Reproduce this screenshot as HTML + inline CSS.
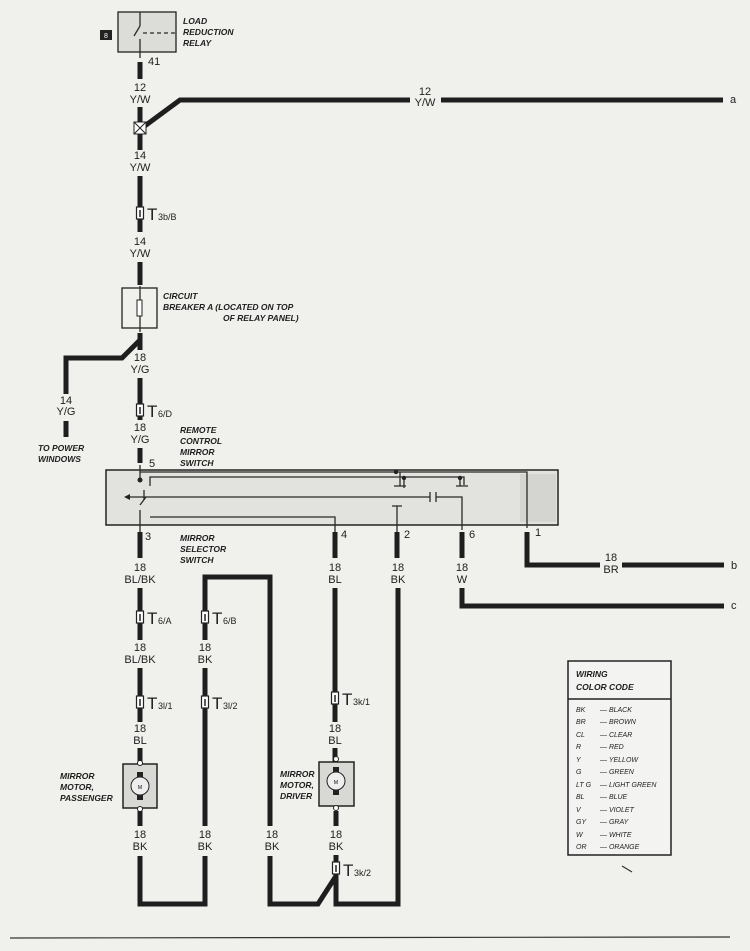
<!DOCTYPE html>
<html><head><meta charset="utf-8"><style>
html,body{margin:0;padding:0;background:#f0f0ed;}
svg{display:block;font-family:"Liberation Sans",sans-serif;}
.w{stroke:#1e1e1e;stroke-width:5;fill:none;}
.t{stroke:#2a2a2a;stroke-width:1.3;fill:none;}
.l{font-size:11px;fill:#1e1e1e;text-anchor:middle;}
.i{font-size:8.5px;font-style:italic;font-weight:bold;fill:#1e1e1e;}
.c{font-size:7px;font-style:italic;fill:#222;}
</style></head><body>
<svg width="750" height="951" viewBox="0 0 750 951">
<defs>
<g id="con"><rect x="-3.5" y="-6" width="7" height="12" fill="#fff" stroke="#222" stroke-width="1.2"/><line x1="0" y1="-3" x2="0" y2="4" stroke="#222" stroke-width="1.5"/></g>
</defs>
<!-- Relay -->
<rect x="118" y="12" width="58" height="40" fill="#dcdcd8" stroke="#222" stroke-width="1.3"/>
<line x1="140" y1="12" x2="140" y2="26" class="t"/><line x1="134" y1="36" x2="140" y2="26" class="t"/><line x1="140" y1="39" x2="140" y2="58" class="t"/>
<line x1="143" y1="33" x2="176" y2="33" class="t" stroke-dasharray="4 3"/>
<rect x="100" y="30" width="12" height="10" fill="#222"/><text x="106" y="38" font-size="7" fill="#fff" text-anchor="middle">8</text>
<text class="i" x="183" y="24">LOAD</text><text class="i" x="183" y="35">REDUCTION</text><text class="i" x="183" y="46">RELAY</text>
<text x="148" y="65" font-size="11" fill="#1e1e1e">41</text>
<path class="w" d="M140 62V79"/>
<text class="l" x="140" y="91">12</text><text class="l" x="140" y="103">Y/W</text>
<path class="w" d="M140 107V150"/>
<path class="w" d="M142 128L180 100H410M441 100H723"/>
<rect x="134" y="122" width="12" height="12" fill="#fff" stroke="#222"/><path d="M134 122L146 134M146 122L134 134" stroke="#222"/>
<text class="l" x="425" y="95">12</text><text class="l" x="425" y="106">Y/W</text>
<text x="730" y="103" font-size="11" fill="#1e1e1e">a</text>
<text class="l" x="140" y="159">14</text><text class="l" x="140" y="171">Y/W</text>
<path class="w" d="M140 176V232"/><use href="#con" x="140" y="213"/>
<text x="147" y="220" font-size="17" fill="#1e1e1e">T</text><text x="158" y="220" font-size="9" fill="#1e1e1e">3b/B</text>
<text class="l" x="140" y="245">14</text><text class="l" x="140" y="257">Y/W</text>
<path class="w" d="M140 262V285"/>
<rect x="122" y="288" width="35" height="40" fill="none" stroke="#222" stroke-width="1.3"/>
<rect x="137" y="300" width="5" height="16" fill="#fff" stroke="#222"/><line x1="140" y1="286" x2="140" y2="300" class="t"/><line x1="140" y1="316" x2="140" y2="332" class="t"/>
<text class="i" x="163" y="299">CIRCUIT</text><text class="i" x="163" y="310">BREAKER A (LOCATED ON TOP</text><text class="i" x="223" y="321">OF RELAY PANEL)</text>
<path class="w" d="M140 333V350"/>
<path class="w" d="M140 340L122 358H66V394"/>
<text class="l" x="66" y="404">14</text><text class="l" x="66" y="415">Y/G</text>
<path class="w" d="M66 421V437"/>
<text class="i" x="38" y="451">TO POWER</text><text class="i" x="38" y="462">WINDOWS</text>
<text class="l" x="140" y="361">18</text><text class="l" x="140" y="373">Y/G</text>
<path class="w" d="M140 378V420"/><use href="#con" x="140" y="410"/>
<text x="147" y="417" font-size="17" fill="#1e1e1e">T</text><text x="158" y="417" font-size="9" fill="#1e1e1e">6/D</text>
<text class="l" x="140" y="431">18</text><text class="l" x="140" y="443">Y/G</text>
<path class="w" d="M140 448V463"/>
<text x="149" y="467" font-size="11" fill="#1e1e1e">5</text>
<text class="i" x="180" y="433">REMOTE</text><text class="i" x="180" y="444">CONTROL</text><text class="i" x="180" y="455">MIRROR</text><text class="i" x="180" y="466">SWITCH</text>
<!-- Switch -->
<rect x="106" y="470" width="452" height="55" fill="#e2e2de" stroke="#222" stroke-width="1.5"/>
<rect x="520" y="474" width="36" height="48" fill="#d4d4d0"/>
<path class="t" d="M140 465V482M140 472H527V528"/>
<circle cx="140" cy="480" r="2.5" fill="#222"/>
<path class="t" d="M150 486V477H464V485M400 472V486M394 486H406M404 478V488M456 486H468M460 478V486"/>
<circle cx="404" cy="478" r="2.2" fill="#222"/><circle cx="396" cy="472" r="2.2" fill="#222"/><circle cx="460" cy="478" r="2.2" fill="#222"/>
<path class="t" d="M126 497H430M436 497H462V530M430 492V502M436 492V502M144 490V500"/>
<path d="M124 497l6-3v6z" fill="#222"/>
<path class="t" d="M140 505L146 497M140 510V535M150 517H335V535M397 506V535M392 506H402"/>
<text x="145" y="540" font-size="11" fill="#1e1e1e">3</text>
<text x="341" y="538" font-size="11" fill="#1e1e1e">4</text>
<text x="404" y="538" font-size="11" fill="#1e1e1e">2</text>
<text x="469" y="538" font-size="11" fill="#1e1e1e">6</text>
<text x="535" y="536" font-size="11" fill="#1e1e1e">1</text>
<text class="i" x="180" y="541">MIRROR</text><text class="i" x="180" y="552">SELECTOR</text><text class="i" x="180" y="563">SWITCH</text>
<!-- pin 3 branch -->
<path class="w" d="M140 532V558"/>
<text class="l" x="140" y="571">18</text><text class="l" x="140" y="583">BL/BK</text>
<path class="w" d="M140 588V640"/><use href="#con" x="140" y="617"/>
<text x="147" y="624" font-size="17" fill="#1e1e1e">T</text><text x="158" y="624" font-size="9" fill="#1e1e1e">6/A</text>
<text class="l" x="140" y="651">18</text><text class="l" x="140" y="663">BL/BK</text>
<path class="w" d="M140 668V722"/><use href="#con" x="140" y="702"/>
<text x="147" y="709" font-size="17" fill="#1e1e1e">T</text><text x="158" y="709" font-size="9" fill="#1e1e1e">3l/1</text>
<text class="l" x="140" y="732">18</text><text class="l" x="140" y="744">BL</text>
<path class="w" d="M140 748V764"/>
<rect x="123" y="764" width="34" height="44" fill="#d8d8d4" stroke="#222" stroke-width="1.5"/>
<circle cx="140" cy="786" r="9" fill="#eee" stroke="#222"/><rect x="137" y="772" width="6" height="5" fill="#222"/><rect x="137" y="795" width="6" height="5" fill="#222"/>
<text x="140" y="789" font-size="5" text-anchor="middle">M</text>
<circle cx="140" cy="763" r="2.5" fill="#fff" stroke="#222"/><circle cx="140" cy="809" r="2.5" fill="#fff" stroke="#222"/>
<text class="i" x="60" y="779">MIRROR</text><text class="i" x="60" y="790">MOTOR,</text><text class="i" x="60" y="801">PASSENGER</text>
<path class="w" d="M140 811V826"/>
<text class="l" x="140" y="838">18</text><text class="l" x="140" y="850">BK</text>
<path class="w" d="M140 856V904H205V856"/>
<text class="l" x="205" y="838">18</text><text class="l" x="205" y="850">BK</text>
<path class="w" d="M205 826V668"/><text class="l" x="205" y="651">18</text><text class="l" x="205" y="663">BK</text>
<path class="w" d="M205 640V577H270V826"/>
<use href="#con" x="205" y="617"/><use href="#con" x="205" y="702"/>
<text x="212" y="624" font-size="17" fill="#1e1e1e">T</text><text x="223" y="624" font-size="9" fill="#1e1e1e">6/B</text>
<text x="212" y="709" font-size="17" fill="#1e1e1e">T</text><text x="223" y="709" font-size="9" fill="#1e1e1e">3l/2</text>
<text class="l" x="272" y="838">18</text><text class="l" x="272" y="850">BK</text>
<path class="w" d="M270 856V904H318L336 876"/>
<!-- pin 4 -->
<path class="w" d="M335 532V558"/>
<text class="l" x="335" y="571">18</text><text class="l" x="335" y="583">BL</text>
<path class="w" d="M335 588V722"/><use href="#con" x="335" y="698"/>
<text x="342" y="705" font-size="17" fill="#1e1e1e">T</text><text x="353" y="705" font-size="9" fill="#1e1e1e">3k/1</text>
<text class="l" x="335" y="732">18</text><text class="l" x="335" y="744">BL</text>
<path class="w" d="M335 748V762"/>
<rect x="319" y="762" width="35" height="44" fill="#d8d8d4" stroke="#222" stroke-width="1.5"/>
<circle cx="336" cy="781" r="9" fill="#eee" stroke="#222"/><rect x="333" y="767" width="6" height="5" fill="#222"/><rect x="333" y="790" width="6" height="5" fill="#222"/>
<text x="336" y="784" font-size="5" text-anchor="middle">M</text>
<circle cx="336" cy="759" r="2.5" fill="#fff" stroke="#222"/><circle cx="336" cy="808" r="2.5" fill="#fff" stroke="#222"/>
<text class="i" x="280" y="777">MIRROR</text><text class="i" x="280" y="788">MOTOR,</text><text class="i" x="280" y="799">DRIVER</text>
<path class="w" d="M336 811V826"/>
<text class="l" x="336" y="838">18</text><text class="l" x="336" y="850">BK</text>
<path class="w" d="M336 855V904H398V588"/><use href="#con" x="336" y="868"/>
<text x="343" y="876" font-size="17" fill="#1e1e1e">T</text><text x="354" y="876" font-size="9" fill="#1e1e1e">3k/2</text>
<path class="w" d="M397 532V558"/>
<text class="l" x="398" y="571">18</text><text class="l" x="398" y="583">BK</text>
<!-- pin 6 -->
<path class="w" d="M462 532V558"/>
<text class="l" x="462" y="571">18</text><text class="l" x="462" y="583">W</text>
<path class="w" d="M462 588V606H724"/>
<text x="731" y="609" font-size="11" fill="#1e1e1e">c</text>
<!-- pin 1 -->
<path class="w" d="M527 532V565H600M622 565H724"/>
<text class="l" x="611" y="561">18</text><text class="l" x="611" y="573">BR</text>
<text x="731" y="569" font-size="11" fill="#1e1e1e">b</text>
<!-- color code -->
<rect x="568" y="661" width="103" height="194" fill="#f3f3f1" stroke="#222" stroke-width="1.5"/>
<line x1="568" y1="699" x2="671" y2="699" stroke="#222" stroke-width="1.5"/>
<text class="i" x="576" y="677" font-size="9.5">WIRING</text><text class="i" x="576" y="690" font-size="9.5">COLOR CODE</text>
<g class="c">
<text x="576" y="712">BK</text><text x="600" y="712">— BLACK</text>
<text x="576" y="724">BR</text><text x="600" y="724">— BROWN</text>
<text x="576" y="737">CL</text><text x="600" y="737">— CLEAR</text>
<text x="576" y="749">R</text><text x="600" y="749">— RED</text>
<text x="576" y="762">Y</text><text x="600" y="762">— YELLOW</text>
<text x="576" y="774">G</text><text x="600" y="774">— GREEN</text>
<text x="576" y="787">LT G</text><text x="600" y="787">— LIGHT GREEN</text>
<text x="576" y="799">BL</text><text x="600" y="799">— BLUE</text>
<text x="576" y="812">V</text><text x="600" y="812">— VIOLET</text>
<text x="576" y="824">GY</text><text x="600" y="824">— GRAY</text>
<text x="576" y="837">W</text><text x="600" y="837">— WHITE</text>
<text x="576" y="849">OR</text><text x="600" y="849">— ORANGE</text>
</g>
<path d="M622 866l10 6" stroke="#333" stroke-width="1.2"/>
<line x1="10" y1="938" x2="730" y2="937" stroke="#333" stroke-width="1.2"/>
</svg>
</body></html>
